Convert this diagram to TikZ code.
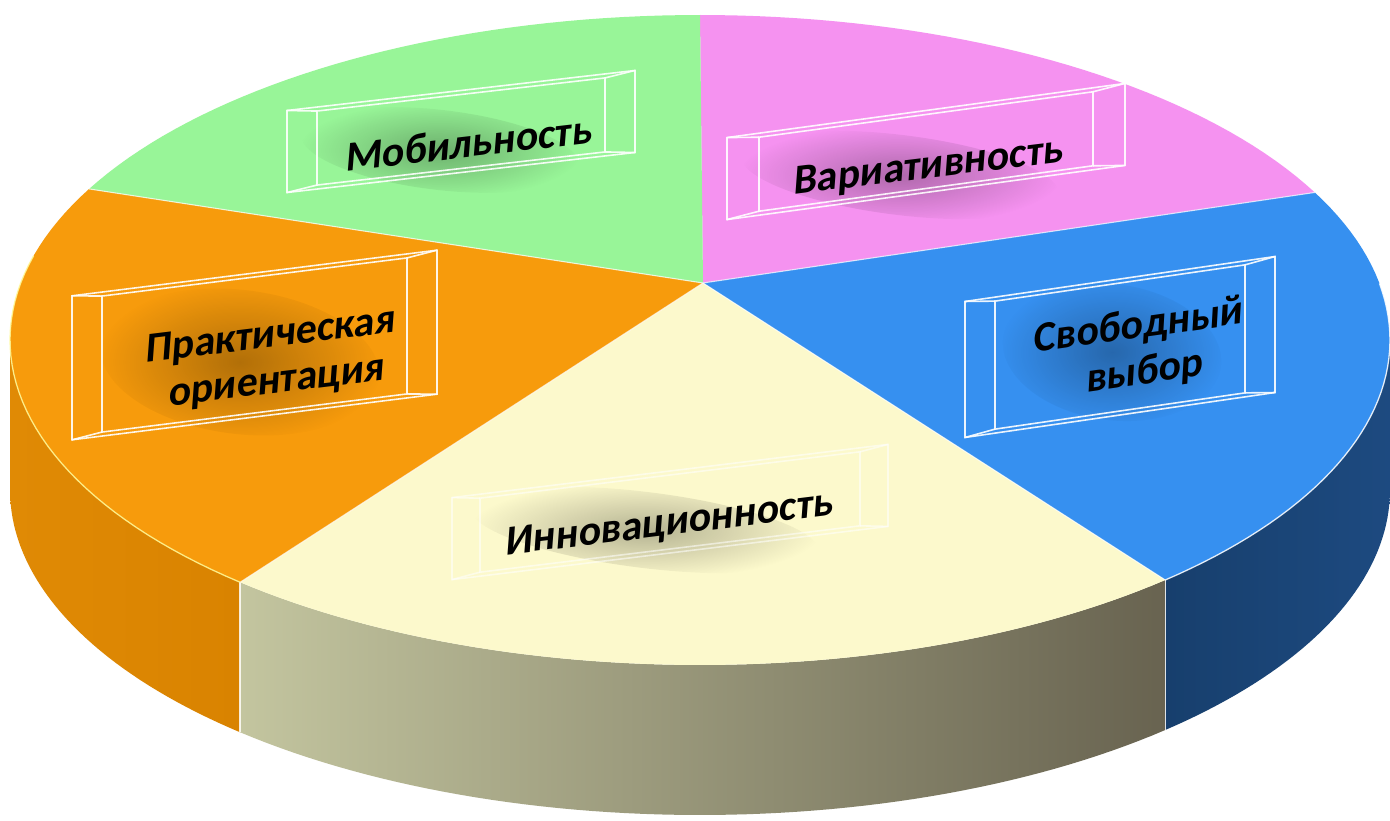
\documentclass[tikz,border=0pt]{standalone}
\usepackage{fontspec}
\setmainfont{Carlito}
\newfontfamily\lblfont{Carlito}[FakeSlant=0.2]
\usetikzlibrary{fadings}
\tikzfading[name=softfade, inner color=transparent!72, outer color=transparent!100]
\definecolor{cgreen}{HTML}{98F598}
\definecolor{cpink}{HTML}{F592F0}
\definecolor{cblue}{HTML}{3690F0}
\definecolor{ccream}{HTML}{FCF9CC}
\definecolor{corange}{HTML}{F79B0C}
\definecolor{corside}{HTML}{D98300}
\definecolor{corsideL}{HTML}{E08A05}
\definecolor{cblside}{HTML}{173F6D}
\definecolor{cblsideR}{HTML}{1D4A80}
\definecolor{ccrL}{HTML}{C3C59F}
\definecolor{ccrR}{HTML}{686350}
\newcommand\glassbox[8]{% cx cy halfw halfh slant insetx insety opacity
  \begin{scope}[shift={(#1,#2)}, yslant=#5, opacity=#8]
    \draw[boxline] (-#3,-#4) rectangle (#3,#4);
    \draw[boxline] (-#3+#6,-#4+#7) rectangle (#3-#6,#4-#7);
    \draw[boxline] (-#3,-#4) -- (-#3+#6,-#4+#7);
    \draw[boxline] (#3,-#4) -- (#3-#6,-#4+#7);
    \draw[boxline] (-#3,#4) -- (-#3+#6,#4-#7);
    \draw[boxline] (#3,#4) -- (#3-#6,#4-#7);
  \end{scope}}
\newcommand\softshadow[5]{% cx cy rx ry rotate
  \fill[black, path fading=softfade, rotate around={#5:(#1,#2)}]
    (#1,#2) ellipse [x radius=#3, y radius=#4];}
\begin{document}
\begin{tikzpicture}[x=1pt,y=-1pt,
  divider/.style={draw=white, line width=1.1pt, opacity=0.7},
  rimline/.style={draw=white, line width=1.3pt, opacity=0.85},
  boxline/.style={draw=white, line width=1.6pt},
  lbl/.style={font=\fontsize{42}{46}\lblfont\bfseries, text=black, align=center, inner sep=0pt}
]
\useasboundingbox (0,0) rectangle (1390,821);
\fill[white] (0,0) rectangle (1390,821);

% centre and rim points
\coordinate (O) at (703,283);
\coordinate (R0) at ({700+690*cos(-90)},{340+325*sin(-90)});
\coordinate (R1) at ({700+690*cos(-27)},{340+325*sin(-27)});
\coordinate (R2) at ({700+690*cos(47.6)},{340+325*sin(47.6)});
\coordinate (R3) at ({700+690*cos(131.8)},{340+325*sin(131.8)});
\coordinate (R4) at ({700+690*cos(207.7)},{340+325*sin(207.7)});
\coordinate (R2b) at ({700+690*cos(47.6)},{490+325*sin(47.6)});
\coordinate (R3b) at ({700+690*cos(131.8)},{490+325*sin(131.8)});

% side faces
\shade[left color=cblside, right color=cblsideR]
  plot[domain=0:47.6, samples=40] ({700+690*cos(\x)},{340+325*sin(\x)})
  -- plot[domain=47.6:0, samples=40] ({700+690*cos(\x)},{490+325*sin(\x)}) -- cycle;
\shade[left color=ccrL, right color=ccrR]
  plot[domain=47.6:131.8, samples=60] ({700+690*cos(\x)},{340+325*sin(\x)})
  -- plot[domain=131.8:47.6, samples=60] ({700+690*cos(\x)},{490+325*sin(\x)}) -- cycle;
\shade[left color=corsideL, right color=corside]
  plot[domain=131.8:180, samples=40] ({700+690*cos(\x)},{340+325*sin(\x)})
  -- plot[domain=180:131.8, samples=40] ({700+690*cos(\x)},{490+325*sin(\x)}) -- cycle;
\draw[rimline] (R2) -- (R2b);
\draw[rimline] (R3) -- (R3b);

% top slices
\fill[cpink] (O) -- plot[domain=-90:-27, samples=40] ({700+690*cos(\x)},{340+325*sin(\x)}) -- cycle;
\fill[cblue] (O) -- plot[domain=-27:47.6, samples=50] ({700+690*cos(\x)},{340+325*sin(\x)}) -- cycle;
\fill[ccream] (O) -- plot[domain=47.6:131.8, samples=60] ({700+690*cos(\x)},{340+325*sin(\x)}) -- cycle;
\fill[corange] (O) -- plot[domain=131.8:207.7, samples=50] ({700+690*cos(\x)},{340+325*sin(\x)}) -- cycle;
\fill[cgreen] (O) -- plot[domain=207.7:270, samples=40] ({700+690*cos(\x)},{340+325*sin(\x)}) -- cycle;

% dividers and rim
\draw[divider] (O) -- (R1);
\draw[divider] (O) -- (R2);
\draw[divider] (O) -- (R3);
\draw[divider] (O) -- (R4);
\draw[rimline] plot[domain=-10:47.6, samples=40] ({700+690*cos(\x)},{340+325*sin(\x)});
\draw[rimline, draw=yellow!40!white] plot[domain=131.8:195, samples=40] ({700+690*cos(\x)},{340+325*sin(\x)});

% soft shadows behind the labels
\softshadow{440}{150}{140}{40}{-6.6}
\softshadow{900}{175}{160}{40}{-7}
\softshadow{240}{362}{140}{72}{-7}
\softshadow{1112}{352}{110}{68}{-8}
\softshadow{645}{530}{175}{38}{-7}

% glass boxes
\glassbox{461}{131.5}{174}{41}{0.115}{30}{4}{0.9}
\glassbox{926}{151.5}{199}{41}{0.136}{32}{4}{0.9}
\glassbox{254.5}{345}{182.5}{72}{0.125}{30}{4}{0.9}
\glassbox{1120}{347}{155}{68}{0.145}{30}{4}{0.9}
\glassbox{670}{512}{218}{41}{0.122}{28}{4}{0.55}

% labels
\node[lbl, rotate=6.6] (mob) at (467,143) {Мобильность};
\node[lbl, rotate=7] (var) at (927,168) {Вариативность};
\node[lbl, rotate=7] (prak) at (272,360) {Практическая\\ориентация};
\node[lbl, rotate=8] (svob) at (1140,350) {Свободный\\выбор};
\node[lbl, rotate=7] (inno) at (668,525) {Инновационность};
\end{tikzpicture}
\end{document}
